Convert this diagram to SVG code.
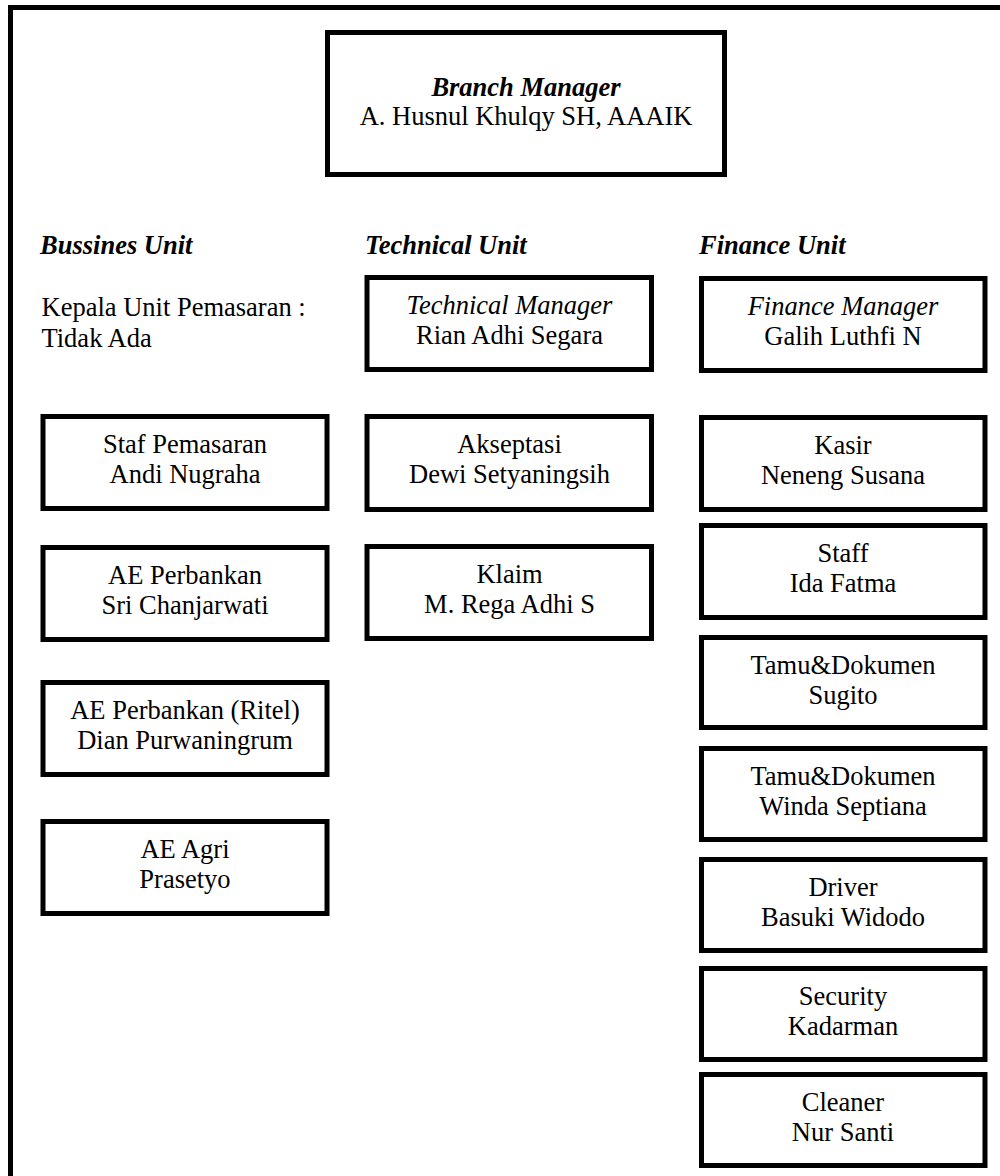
<svg xmlns="http://www.w3.org/2000/svg" width="1000" height="1176" viewBox="0 0 1000 1176">
<style>
.box{fill:#fff;stroke:#000;stroke-width:5}
.t{font-family:"Liberation Serif","Times New Roman",serif;font-size:26.5px;fill:#000}
.c{text-anchor:middle}
.i{font-style:italic}
.bi{font-style:italic;font-weight:bold}
</style>
<rect x="0" y="0" width="1000" height="1176" fill="#fff"/>
<path d="M10.5,1176 V7.5 H1000" fill="none" stroke="#000" stroke-width="5"/>
<g id="connectors"/>
<g id="branch-manager">
<rect class="box" x="327.5" y="32.5" width="397" height="142"/>
<text class="t c bi" x="526" y="96">Branch Manager</text>
<text class="t c" x="526" y="125">A. Husnul Khulqy SH, AAAIK</text>
</g>
<g id="headings">
<text class="t bi" x="40" y="254">Bussines Unit</text>
<text class="t bi" x="365" y="254">Technical Unit</text>
<text class="t bi" x="699" y="254">Finance Unit</text>
</g>
<g id="kepala-pemasaran">
<text class="t" x="41.5" y="316">Kepala Unit Pemasaran :</text>
<text class="t" x="41.5" y="346.5">Tidak Ada</text>
</g>
<g id="staf-pemasaran">
<rect class="box" x="43" y="416.5" width="284" height="92"/>
<text class="t c" x="185" y="452.5">Staf Pemasaran</text>
<text class="t c" x="185" y="482.5">Andi Nugraha</text>
</g>
<g id="ae-perbankan">
<rect class="box" x="43" y="547.5" width="284" height="92"/>
<text class="t c" x="185" y="583.5">AE Perbankan</text>
<text class="t c" x="185" y="613.5">Sri Chanjarwati</text>
</g>
<g id="ae-perbankan-ritel">
<rect class="box" x="43" y="682.5" width="284" height="92"/>
<text class="t c" x="185" y="718.5">AE Perbankan (Ritel)</text>
<text class="t c" x="185" y="748.5">Dian Purwaningrum</text>
</g>
<g id="ae-agri">
<rect class="box" x="43" y="821.5" width="284" height="92"/>
<text class="t c" x="185" y="857.5">AE Agri</text>
<text class="t c" x="185" y="887.5">Prasetyo</text>
</g>
<g id="technical-manager">
<rect class="box" x="367" y="277.5" width="284.5" height="92"/>
<text class="t c i" x="509.5" y="313.5">Technical Manager</text>
<text class="t c" x="509.5" y="343.5">Rian Adhi Segara</text>
</g>
<g id="akseptasi">
<rect class="box" x="367" y="416.5" width="284.5" height="93"/>
<text class="t c" x="509.5" y="452.5">Akseptasi</text>
<text class="t c" x="509.5" y="482.5">Dewi Setyaningsih</text>
</g>
<g id="klaim">
<rect class="box" x="367" y="546.5" width="284.5" height="92"/>
<text class="t c" x="509.5" y="582.5">Klaim</text>
<text class="t c" x="509.5" y="612.5">M. Rega Adhi S</text>
</g>
<g id="finance-manager">
<rect class="box" x="701.5" y="278.5" width="283.5" height="92"/>
<text class="t c i" x="843" y="314.5">Finance Manager</text>
<text class="t c" x="843" y="344.5">Galih Luthfi N</text>
</g>
<g id="kasir">
<rect class="box" x="701.5" y="417.5" width="283.5" height="92"/>
<text class="t c" x="843" y="453.5">Kasir</text>
<text class="t c" x="843" y="483.5">Neneng Susana</text>
</g>
<g id="staff">
<rect class="box" x="701.5" y="525.5" width="283.5" height="92"/>
<text class="t c" x="843" y="561.5">Staff</text>
<text class="t c" x="843" y="591.5">Ida Fatma</text>
</g>
<g id="tamu-sugito">
<rect class="box" x="701.5" y="637.5" width="283.5" height="90"/>
<text class="t c" x="843" y="673.5">Tamu&amp;Dokumen</text>
<text class="t c" x="843" y="703.5">Sugito</text>
</g>
<g id="tamu-winda">
<rect class="box" x="701.5" y="748.5" width="283.5" height="91"/>
<text class="t c" x="843" y="784.5">Tamu&amp;Dokumen</text>
<text class="t c" x="843" y="814.5">Winda Septiana</text>
</g>
<g id="driver">
<rect class="box" x="701.5" y="859.5" width="283.5" height="91"/>
<text class="t c" x="843" y="895.5">Driver</text>
<text class="t c" x="843" y="925.5">Basuki Widodo</text>
</g>
<g id="security">
<rect class="box" x="701.5" y="968.5" width="283.5" height="91"/>
<text class="t c" x="843" y="1004.5">Security</text>
<text class="t c" x="843" y="1034.5">Kadarman</text>
</g>
<g id="cleaner">
<rect class="box" x="701.5" y="1074.5" width="283.5" height="91"/>
<text class="t c" x="843" y="1110.5">Cleaner</text>
<text class="t c" x="843" y="1140.5">Nur Santi</text>
</g>
</svg>
